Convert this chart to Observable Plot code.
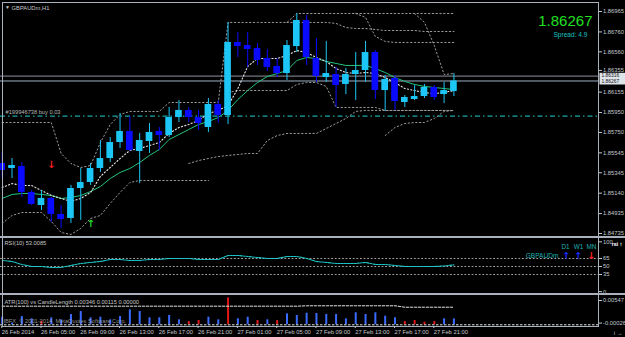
<!DOCTYPE html>
<html><head><meta charset="utf-8">
<script src="https://cdn.jsdelivr.net/npm/d3@7"></script>
<script src="https://cdn.jsdelivr.net/npm/@observablehq/plot@0.6"></script>
<style>
html,body{margin:0;padding:0;background:#000;}
#chart{position:relative;width:625px;height:337px;background:#000;overflow:hidden;font-family:"Liberation Sans",Arial,sans-serif;}
#chart svg{position:absolute;left:0;}
.sep{position:absolute;background:#a9b1bd;}
</style></head><body><div id="chart"></div>
<script>
// ---------------- DATA ----------------
const timeLabels = ["26 Feb 2014","26 Feb 05:00","26 Feb 09:00","26 Feb 13:00","26 Feb 17:00","26 Feb 21:00","27 Feb 01:00","27 Feb 05:00","27 Feb 09:00","27 Feb 13:00","27 Feb 17:00","27 Feb 21:00"];
const priceTicks = [1.86965,1.86760,1.86560,1.86155,1.85950,1.85750,1.85545,1.85345,1.85140,1.84935,1.84735];
const hiddenTick = [1.86355];
const open  = [1.85438,1.85388,1.85408,1.85147,1.85016,1.85087,1.84926,1.84886,1.85187,1.85247,1.85388,1.85488,1.85649,1.85760,1.85559,1.85659,1.85760,1.85719,1.85900,1.85971,1.85900,1.85800,1.86031,1.85920,1.86654,1.86623,1.86593,1.86493,1.86413,1.86342,1.86613,1.86875,1.86493,1.86302,1.86332,1.86232,1.86332,1.86372,1.86553,1.86171,1.86292,1.86051,1.86081,1.86111,1.86202,1.86131,1.86161];
const high  = [1.85549,1.85488,1.85448,1.85167,1.85167,1.85097,1.85016,1.85217,1.85388,1.85438,1.85669,1.85699,1.85940,1.85910,1.85740,1.85840,1.85800,1.86001,1.86071,1.86001,1.85971,1.86091,1.86071,1.86855,1.86754,1.86754,1.86644,1.86583,1.86493,1.86674,1.86945,1.86925,1.86694,1.86664,1.86403,1.86392,1.86553,1.86664,1.86573,1.86322,1.86322,1.86121,1.86222,1.86232,1.86222,1.86252,1.86342];
const low   = [1.85287,1.85287,1.85097,1.85016,1.84966,1.84846,1.84786,1.84836,1.84866,1.85217,1.85348,1.85448,1.85589,1.85559,1.85237,1.85539,1.85569,1.85699,1.85850,1.85850,1.85770,1.85750,1.85840,1.85830,1.86503,1.86403,1.86423,1.86362,1.86302,1.86272,1.86553,1.86423,1.86252,1.86252,1.86001,1.86131,1.86071,1.86252,1.86081,1.85961,1.85971,1.86001,1.86071,1.86091,1.86071,1.86041,1.86111];
const close = [1.85368,1.85418,1.85147,1.85027,1.85087,1.84926,1.84876,1.85187,1.85247,1.85388,1.85488,1.85649,1.85760,1.85569,1.85669,1.85750,1.85719,1.85900,1.85971,1.85900,1.85840,1.86031,1.85920,1.86654,1.86613,1.86583,1.86473,1.86403,1.86342,1.86623,1.86875,1.86503,1.86312,1.86342,1.86222,1.86332,1.86372,1.86553,1.86171,1.86282,1.86061,1.86101,1.86111,1.86202,1.86101,1.86171,1.86267];
const maSlow = [1.85087,1.85127,1.85137,1.85137,1.85127,1.85117,1.85087,1.85097,1.85117,1.85157,1.85207,1.85287,1.85348,1.85388,1.85448,1.85519,1.85579,1.85679,1.85729,1.85780,1.85830,1.85860,1.85900,1.85971,1.86081,1.86171,1.86252,1.86312,1.86342,1.86372,1.86473,1.86503,1.86493,1.86463,1.86443,1.86423,1.86423,1.86423,1.86392,1.86352,1.86302,1.86262,1.86232,1.86212,1.86202,1.86191,1.86181];
const maFast = [1.85197,1.85237,1.85217,1.85217,1.85167,1.85117,1.85087,1.85057,1.85087,1.85147,1.85308,1.85398,1.85488,1.85569,1.85589,1.85619,1.85649,1.85740,1.85800,1.85830,1.85870,1.85940,1.85971,1.86021,1.86191,1.86413,1.86493,1.86493,1.86493,1.86523,1.86573,1.86553,1.86503,1.86463,1.86392,1.86352,1.86342,1.86352,1.86342,1.86302,1.86252,1.86191,1.86171,1.86151,1.86141,1.86151,1.86171];
const bandU1 = [1.85850,1.85850,1.85850,1.85850,1.85850,1.85850,1.85539,1.85438,1.85398,1.85418,1.85649,1.85830,1.85930,1.85961,1.85961,1.85961,1.85961,1.86051,1.86051,1.86051,1.86051,1.86051,1.86051,1.86855,1.86855,1.86855,1.86855,1.86855,1.86855,1.86855,1.86945,1.86945,1.86945,1.86945,1.86945,1.86945,1.86945,1.86945,1.86945,1.86945,1.86945,1.86945,1.86945,1.86945,1.86945,1.86945,1.86945];
const bandU2 = [null,null,null,null,null,null,null,null,null,null,null,null,null,null,null,null,null,null,null,null,null,null,null,null,null,null,null,null,null,1.86855,1.86855,1.86855,1.86855,1.86855,1.86845,1.86804,1.86794,1.86794,1.86784,1.86774,1.86774,1.86774,1.86774,1.86764,1.86764,1.86764,1.86764];
const bandU3 = [null,null,null,null,null,null,null,null,null,null,null,null,null,null,null,null,null,null,null,null,null,null,null,null,null,null,null,null,null,null,null,null,null,null,null,null,1.86945,1.86905,1.86714,1.86664,1.86654,1.86654,1.86654,1.86654,1.86654,1.86654,1.86654];
const bandU4 = [null,null,null,null,null,null,null,null,null,null,null,null,null,null,null,null,null,null,null,null,null,null,null,null,null,null,null,null,null,null,null,null,null,null,null,null,null,null,null,null,null,null,1.86945,1.86855,1.86623,1.86332,1.86342];
const bandL1 = [1.84836,1.84916,1.84946,1.84946,1.84946,1.84856,1.84745,1.84725,1.84786,1.84886,1.84916,1.85037,1.85147,1.85247,1.85267,1.85267,1.85267,1.85267,1.85267,1.85267,1.85267,1.85267,null,1.86151,1.86171,1.86171,1.86171,1.86171,1.86171,1.86171,1.86232,1.86252,1.86252,1.86212,1.86001,1.86001,1.86001,1.86001,1.86001,1.85971,1.85971,1.85971,1.85971,1.85971,1.85971,1.85971,1.85971];
const bandL2 = [null,null,null,null,null,null,null,null,null,null,null,null,null,null,null,null,null,null,null,1.85438,1.85468,1.85488,1.85508,1.85519,1.85529,1.85539,1.85539,1.85669,1.85719,1.85740,1.85740,1.85740,1.85740,1.85790,1.85840,1.85890,1.85961,1.85971,1.85971,1.85971,1.85971,1.85971,1.85971,1.85971,1.85971,1.85971,1.85971];
const bandL3 = [null,null,null,null,null,null,null,null,null,null,null,null,null,null,null,null,null,null,null,null,null,null,null,null,null,null,null,null,null,null,null,null,null,null,null,null,null,null,null,1.85719,1.85800,1.85840,1.85850,1.85850,1.85890,1.85961,1.85971];
const rsi = [61.3,59.4,53.8,50.1,50.1,48.2,48.2,51.9,55.7,57.6,59.4,63.2,63.2,61.3,61.3,63.2,63.2,65.1,65.1,65.1,63.2,63.2,63.2,70.7,70.7,68.8,66.9,65.1,65.1,68.8,68.8,65.1,59.4,57.6,55.7,55.7,55.7,57.6,53.8,53.8,51.9,50.1,50.1,50.1,50.1,51.0,53.0];
const rsiLevels = [65,50,35];
const candleLen = [0.00150,0.00030,0.00163,0.00118,0.00071,0.00138,0.00098,0.00203,0.00262,0.00138,0.00150,0.00098,0.00163,0.00295,0.00262,0.00138,0.00138,0.00183,0.00098,0.00065,0.00085,0.00150,0.00098,0.00530,0.00118,0.00150,0.00085,0.00098,0.00085,0.00216,0.00183,0.00228,0.00222,0.00203,0.00203,0.00118,0.00236,0.00203,0.00236,0.00169,0.00138,0.00065,0.00085,0.00051,0.00065,0.00118,0.00115];
const lenAlert = [0,0,0,0,1,0,0,0,0,0,0,0,0,0,0,0,0,0,0,1,1,0,0,1,0,0,1,0,1,0,0,0,0,0,0,0,0,0,0,0,0,1,1,1,1,0,0];
const atr = [0.00366,0.00366,0.00366,0.00366,0.00366,0.00366,0.00366,0.00366,0.00366,0.00366,0.00366,0.00366,0.00366,0.00366,0.00366,0.00366,0.00366,0.00366,0.00366,0.00366,0.00366,0.00366,0.00366,0.00366,0.00366,0.00366,0.00366,0.00366,0.00366,0.00366,0.00366,0.00374,0.00374,0.00374,0.00374,0.00374,0.00374,0.00374,0.00374,0.00374,0.00374,0.00346,0.00346,0.00346,0.00346,0.00346,0.00346];
const askPrice = 1.86316, bidPrice = 1.86267, orderPrice = 1.85915;
const signalsDown = [{i:5, p:1.85428}];
const signalsUp = [{i:9, p:1.84836}];

// ---------------- LAYOUT ----------------
const W = 625, MR = 27;
const pxPerBar = 9.82, firstBarPx = 1.7;
const xDomain = [(0 - firstBarPx) / pxPerBar, (W - MR - firstBarPx) / pxPerBar];
const idxAt = px => (px - firstBarPx) / pxPerBar;
function linDomain(v1, p1, v2, p2, h) {
  const k = (p2 - p1) / (v1 - v2);
  return [v1 - (h - p1) / k, v1 + p1 / k];
}
const bars = open.map((o, i) => {
  const c = close[i];
  let b0 = Math.min(o, c), b1 = Math.max(o, c);
  if (b1 - b0 < 0.00008) { const m = (b0 + b1) / 2; b0 = m - 0.00004; b1 = m + 0.00004; }
  return {i, o, c, h: high[i], l: low[i], b0, b1, bull: c >= o,
    ma1: maSlow[i], ma2: maFast[i], u1: bandU1[i], u2: bandU2[i], u3: bandU3[i], u4: bandU4[i],
    l1: bandL1[i], l2: bandL2[i], l3: bandL3[i], rsi: rsi[i], len: candleLen[i], alert: lenAlert[i], atr: atr[i]};
});
const bullC = "#1cc6f6", bearC = "#0a0aff", gridC = "#c4c8ce", bandC = "#9a9a9a";
const baseStyle = {background: "transparent", color: gridC, fontFamily: "Liberation Sans, Arial, sans-serif", fontSize: "5.8px", overflow: "visible"};
const chart = document.getElementById("chart");
function place(el, top) { el.style.top = top + "px"; chart.appendChild(el); }
function sep(x, y, w, h) { const d = document.createElement("div"); d.className = "sep"; Object.assign(d.style, {left: x+"px", top: y+"px", width: w+"px", height: h+"px"}); chart.appendChild(d); }

// ---------------- MAIN PANEL ----------------
const mainH = 233, mainTop = 3;
const yMain = linDomain(1.86965, 11 - mainTop, 1.84735, 233 - mainTop, mainH);
const kMain = (mainH) / (yMain[1] - yMain[0]);
const pAt = py => yMain[1] - (py - mainTop) / kMain;
const bandLine = (key) => Plot.line(bars, {x: "i", y: key, stroke: bandC, strokeWidth: 1, strokeDasharray: "1.4,2.4", clip: true});
const bw = 0.34;
const main = Plot.plot({
  width: W, height: mainH, marginTop: 0, marginBottom: 0, marginLeft: 0, marginRight: MR,
  x: {domain: xDomain, axis: null}, y: {domain: yMain, axis: null},
  style: baseStyle,
  marks: [
    Plot.ruleY([orderPrice], {stroke: "#1aa8a8", strokeWidth: 1.3, strokeDasharray: "5,3,1.5,3"}),
    Plot.ruleY([askPrice], {stroke: "#8d939c", strokeWidth: 1}),
    Plot.ruleY([bidPrice], {stroke: "#9fb0c8", strokeWidth: 1}),
    bandLine("u1"), bandLine("u2"), bandLine("u3"), bandLine("u4"),
    bandLine("l1"), bandLine("l2"), bandLine("l3"),
    Plot.line(bars, {x: "i", y: "ma1", stroke: "#22c47c", strokeWidth: 1, clip: true}),
    Plot.line(bars, {x: "i", y: "ma2", stroke: "#e8e8e8", strokeWidth: 1.1, strokeDasharray: "1.2,2.2", clip: true}),
    Plot.ruleX(bars.filter(d => d.bull), {x: "i", y1: "l", y2: "h", stroke: bullC, strokeWidth: 1, clip: true}),
    Plot.ruleX(bars.filter(d => !d.bull), {x: "i", y1: "l", y2: "h", stroke: bearC, strokeWidth: 1, clip: true}),
    Plot.rect(bars.filter(d => d.bull), {x1: d => d.i - bw, x2: d => d.i + bw, y1: "b0", y2: "b1", fill: bullC, clip: true}),
    Plot.rect(bars.filter(d => !d.bull), {x1: d => d.i - bw, x2: d => d.i + bw, y1: "b0", y2: "b1", fill: bearC, clip: true}),
    Plot.text(signalsDown, {x: "i", y: "p", text: () => "↓", fill: "#ff1e1e", fontSize: 10, fontWeight: "bold", fontFamily: "DejaVu Sans"}),
    Plot.text(signalsUp, {x: "i", y: "p", text: () => "↑", fill: "#22dd22", fontSize: 10, fontWeight: "bold", fontFamily: "DejaVu Sans"}),
    Plot.text(["#199946738 buy 0.03"], {x: xDomain[0], y: orderPrice, dx: 5, dy: -3.5, textAnchor: "start", fill: "#b8b8b8", fontSize: 5.7}),
    Plot.ruleX([xDomain[1]], {stroke: "#a9b1bd", strokeWidth: 1}),
    Plot.axisY(priceTicks, {anchor: "right", tickSize: 3, tickPadding: 1.5, tickFormat: d => d.toFixed(5), fontSize: 5.8, textAnchor: "start"}),
    Plot.axisY(hiddenTick, {anchor: "right", tickSize: 3, tickPadding: 1.5, tickFormat: d => d.toFixed(5), fontSize: 5.8, textAnchor: "start", dy: -1.8}),
    Plot.rect([{a: askPrice, b: bidPrice}], {x1: idxAt(599.5), x2: idxAt(625), y1: d => pAt(84.5), y2: d => pAt(72.8), fill: "#dfe3ea", clip: false}),
    Plot.text([askPrice], {x: idxAt(601), y: d => d, dy: -0.3, text: d => d.toFixed(5), textAnchor: "start", fill: "#111", fontSize: 4.9}),
    Plot.text([bidPrice], {x: idxAt(601), y: d => d, dy: 0.7, text: d => d.toFixed(5), textAnchor: "start", fill: "#111", fontSize: 4.9}),
    Plot.text(["▼"], {frameAnchor: "top-left", dx: 4.5, dy: 4, lineAnchor: "middle", fill: "#c8c8c8", fontSize: 5}),
    Plot.text(["GBPAUDm,H1"], {frameAnchor: "top-left", dx: 11, dy: 4.5, lineAnchor: "middle", textAnchor: "start", fill: "#c8c8c8", fontSize: 5.8}),
    Plot.text(["1.86267"], {frameAnchor: "top-right", dx: -6, dy: 17.5, lineAnchor: "middle", textAnchor: "end", fill: "#22e022", fontSize: 15}),
    Plot.text(["Spread: 4.9"], {frameAnchor: "top-right", dx: -11, dy: 31, lineAnchor: "middle", textAnchor: "end", fill: "#19c0c0", fontSize: 6.6})
  ]
});
place(main, mainTop);

// ---------------- RSI PANEL ----------------
const rsiTop = 238, rsiH = 55;
const yRsi = linDomain(65, 258 - rsiTop, 35, 274 - rsiTop, rsiH);
const rsiPlot = Plot.plot({
  width: W, height: rsiH, marginTop: 0, marginBottom: 0, marginLeft: 0, marginRight: MR,
  x: {domain: xDomain, axis: null}, y: {domain: yRsi, axis: null},
  style: baseStyle,
  marks: [
    Plot.ruleY(rsiLevels, {stroke: "#a0a0a0", strokeDasharray: "1.8,1.8", strokeWidth: 1}),
    Plot.line(bars, {x: "i", y: "rsi", stroke: "#1ec8c8", strokeWidth: 1.1, strokeDasharray: "2.2,1", clip: true}),
    Plot.ruleX([xDomain[1]], {stroke: "#a9b1bd", strokeWidth: 1}),
    Plot.axisY(rsiLevels, {anchor: "right", tickSize: 3, tickPadding: 1.5, fontSize: 5.8, textAnchor: "start"}),
    Plot.axisY([100], {anchor: "right", tickSize: 3, tickPadding: 1.5, fontSize: 5.8, textAnchor: "start", dy: 2}),
    Plot.axisY([0], {anchor: "right", tickSize: 3, tickPadding: 1.5, fontSize: 5.8, textAnchor: "start", dy: -1.5}),
    Plot.text(["RSI(10) 53.0085"], {frameAnchor: "top-left", dx: 4, dy: 4.5, lineAnchor: "middle", textAnchor: "start", fill: "#c8c8c8", fontSize: 5.7}),
    Plot.text(["D1", "W1", "MN"], {x: d => idxAt({D1: 565, W1: 578, MN: 591}[d]), frameAnchor: "top", dy: 8, lineAnchor: "middle", textAnchor: "middle", fill: "#1fb0b0", fontSize: 6.4}),
    Plot.text(["GBPAUDm"], {x: idxAt(558), frameAnchor: "top", dy: 17.5, lineAnchor: "middle", textAnchor: "end", fill: "#1fb0b0", fontSize: 6.6}),
    Plot.text(["↑", "↑"], {x: (d, i) => idxAt([566, 578][i]), frameAnchor: "top", dy: 17, lineAnchor: "middle", fill: "#1a2cff", fontSize: 9.5, fontWeight: "bold", fontFamily: "DejaVu Sans"}),
    Plot.text(["↓"], {x: idxAt(591), frameAnchor: "top", dy: 17, lineAnchor: "middle", fill: "#ff2020", fontSize: 9.5, fontWeight: "bold", fontFamily: "DejaVu Sans"})
  ]
});
place(rsiPlot, rsiTop);

// ---------------- ATR PANEL ----------------
const atrTop = 295, atrH = 42, atrMB = 11;
const yAtr = linDomain(0, 324.3 - atrTop, 0.00547, 296.5 - atrTop, atrH - atrMB);
const atrPlot = Plot.plot({
  width: W, height: atrH, marginTop: 0, marginBottom: atrMB, marginLeft: 0, marginRight: MR,
  x: {domain: xDomain, axis: null}, y: {domain: yAtr, axis: null},
  style: baseStyle,
  marks: [
    Plot.ruleX(bars.filter(d => !d.alert), {x: "i", y1: 0, y2: "len", stroke: "#3a6cff", strokeWidth: 2, clip: true}),
    Plot.ruleX(bars.filter(d => d.alert), {x: "i", y1: 0, y2: "len", stroke: "#e01818", strokeWidth: 2, clip: true}),
    Plot.ruleY([0], {stroke: "#e0e0e0", strokeDasharray: "2.5,1.5", strokeWidth: 1}),
    Plot.line(bars, {x: "i", y: "atr", stroke: "#e0e0e0", strokeWidth: 1, strokeDasharray: "2.5,1.5", clip: true}),
    Plot.text(["ATR(100) vs CandleLength 0.00346 0.00115 0.00000"], {frameAnchor: "top-left", dx: 4, dy: 7, lineAnchor: "middle", textAnchor: "start", fill: "#c8c8c8", fontSize: 5.7}),
    Plot.text(["IBFX, © 2001-2014, MetaQuotes Software Corp."], {frameAnchor: "top-left", dx: 3, dy: 26, lineAnchor: "middle", textAnchor: "start", fill: "#b0b0b0", fillOpacity: 0.85, fontSize: 5.7}),
    Plot.ruleX([xDomain[1]], {stroke: "#a9b1bd", strokeWidth: 1, y1: yAtr[0], y2: yAtr[1]}),
    Plot.axisY([0.00547], {anchor: "right", tickSize: 3, tickPadding: 1.5, tickFormat: d => d.toFixed(5), fontSize: 5.8, textAnchor: "start", dy: 3.5}),
    Plot.axisY([-0.00026], {anchor: "right", tickSize: 3, tickPadding: 1.5, tickFormat: d => d.toFixed(5), fontSize: 5.8, textAnchor: "start", dy: -3}),
    Plot.axisX([0,4,8,12,16,20,24,28,32,36,40,44], {anchor: "bottom", tickSize: 2, tickPadding: 1, tickFormat: d => timeLabels[d / 4], textAnchor: "start", fontSize: 5.8, dx: -0.5})
  ]
});
place(atrPlot, atrTop);

// ---------------- FRAME ----------------
sep(2, 2, 597, 1);
sep(2, 2, 1, 324);
sep(0, 236, W, 2);
sep(0, 293, W, 2);
sep(2, 326, 597, 1);
</script></body></html>
